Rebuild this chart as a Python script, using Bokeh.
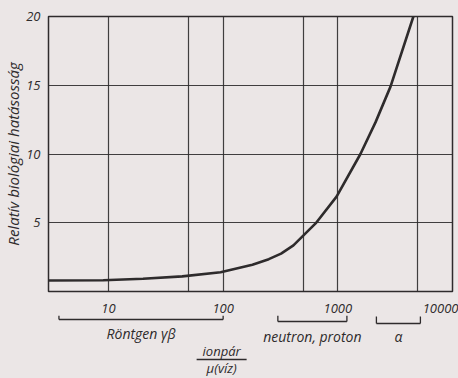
import math
from bokeh.plotting import figure
from bokeh.models import Range1d, FixedTicker, ColumnDataSource
from bokeh.layouts import column
from bokeh.embed import file_html
from bokeh.resources import INLINE
from bokeh.core.properties import value

# ---- data ----
let_values = [3, 9, 20, 44, 95, 180, 250, 320, 410, 640, 975, 1575, 2130, 2880, 4560]
rbe_values = [0.8, 0.82, 0.93, 1.1, 1.4, 1.95, 2.35, 2.75, 3.35, 4.95, 6.9, 10.0, 12.3, 14.9, 20.0]

x_ticks = [10, 100, 1000, 10000]
x_tick_labels = ["10", "100", "1000", "10000"]
x_grid_lines = [10, 50, 100, 500, 1000, 5000]
y_ticks = [5, 10, 15, 20]
y_tick_labels = ["5", "10", "15", "20"]
y_grid_lines = [5, 10, 15]

radiation_names = ["Röntgen γβ", "neutron, proton", "α"]
radiation_start = [3.7, 300, 2170]
radiation_end = [100, 1200, 5250]

y_title = "Relatív biológiai hatásosság"
x_title_top = "ionpár"
x_title_bottom = "μ(víz)"
x_title_at = 97

# ---- styles ----
BG = "#ebe6e6"
INK = "#2e2b2c"
FONT = value("Open Sans")

p = figure(width=458, height=315, x_axis_type="log",
           x_range=Range1d(3, 10000), y_range=Range1d(0, 20),
           output_backend="svg", toolbar_location=None,
           min_border_left=48, min_border_right=6, min_border_top=16, min_border_bottom=0,
           background_fill_color=BG, border_fill_color=BG,
           outline_line_color=INK, outline_line_width=1.5)

p.line(let_values, rbe_values, line_color=INK, line_width=2.6)

p.xgrid.ticker = FixedTicker(ticks=x_grid_lines)
p.ygrid.ticker = FixedTicker(ticks=y_grid_lines)
p.grid.grid_line_color = INK
p.grid.grid_line_width = 1.2
p.grid.grid_line_alpha = 0.9

for ax in (p.xaxis[0], p.yaxis[0]):
    ax.axis_line_color = None
    ax.major_tick_line_color = None
    ax.minor_tick_line_color = None
    ax.major_label_text_font = "Open Sans"
    ax.major_label_text_font_style = "italic"
    ax.major_label_text_font_size = "13px"
    ax.major_label_text_color = INK

p.xaxis.ticker = FixedTicker(ticks=x_ticks)
p.xaxis.major_label_overrides = dict(zip(x_ticks, x_tick_labels))
p.xaxis.major_label_text_align = "right"
p.xaxis.major_label_standoff = 6

p.yaxis.ticker = FixedTicker(ticks=y_ticks)
p.yaxis.major_label_overrides = dict(zip(y_ticks, y_tick_labels))
p.yaxis.major_label_standoff = 2
p.yaxis.axis_label = y_title
p.yaxis.axis_label_text_font = "Open Sans"
p.yaxis.axis_label_text_font_style = "italic"
p.yaxis.axis_label_text_font_size = "15px"
p.yaxis.axis_label_text_color = INK
p.yaxis.axis_label_standoff = 0

# ---- lower panel: radiation ranges and x title ----
p2 = figure(width=458, height=63, x_axis_type="log", x_range=p.x_range,
            y_range=Range1d(63, 0), x_axis_location=None, y_axis_location=None,
            output_backend="svg", toolbar_location=None,
            min_border_left=48, min_border_right=6, min_border_top=0, min_border_bottom=0,
            background_fill_color=BG, border_fill_color=BG, outline_line_color=None)
p2.grid.visible = False

bracket_y = [4, 6, 8]
bracket_top = [0, 0, 1]
centers = [math.sqrt(a * b) for a, b in zip(radiation_start, radiation_end)]
src = ColumnDataSource(dict(start=radiation_start, end=radiation_end, y=bracket_y,
                            top=bracket_top, name=radiation_names, cx=centers,
                            ty=[18, 21, 21]))
p2.segment(x0="start", y0="y", x1="end", y1="y", source=src, line_color=INK, line_width=1.3)
p2.segment(x0="start", y0="y", x1="start", y1="top", source=src, line_color=INK, line_width=1.3)
p2.segment(x0="end", y0="y", x1="end", y1="top", source=src, line_color=INK, line_width=1.3)
p2.text(x="cx", y="ty", text="name", source=src, text_align="center",
        text_baseline="middle", text_font=FONT, text_font_style="italic",
        text_font_size="14px", text_color=INK)

p2.text(x=[x_title_at], y=[35], text=[x_title_top], text_align="center", text_baseline="middle",
        text_font=FONT, text_font_style="italic", text_font_size="13px", text_color=INK)
p2.rect(x=[x_title_at], y=[44], width=50, height=1.3, width_units="screen", height_units="screen",
        fill_color=INK, line_color=None)
p2.text(x=[x_title_at], y=[52], text=[x_title_bottom], text_align="center", text_baseline="middle",
        text_font=FONT, text_font_style="italic", text_font_size="13px", text_color=INK)

layout = column(p, p2, spacing=0, styles={"background-color": BG})
html = file_html(layout, INLINE)
html = html.replace("<body>", '<body style="background-color: %s;">' % BG, 1)
open("out.html", "w").write(html)
